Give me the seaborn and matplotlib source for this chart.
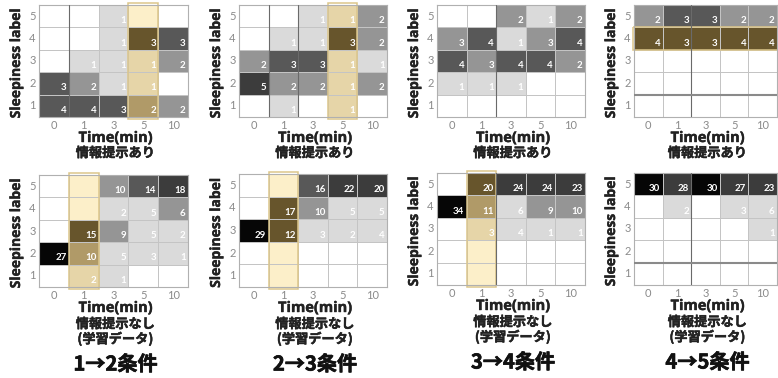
import numpy as np
import pandas as pd
import matplotlib
matplotlib.use("Agg")
import matplotlib.pyplot as plt
import matplotlib.patheffects as pe
import seaborn as sns
from matplotlib.colors import ListedColormap, BoundaryNorm
from matplotlib.patches import Rectangle

sns.set_theme(style="white")
plt.rcParams['font.family'] = ['Open Sans', 'Noto Sans CJK JP', 'DejaVu Sans']

times = ["0", "1", "3", "5", "10"]
sleep_labels = ["5", "4", "3", "2", "1"]

# rows: Sleepiness label 5 -> 1 ; columns: Time(min) 0, 1, 3, 5, 10
info_1to2 = [[0, 0, 1, 0, 0], [0, 0, 1, 3, 3], [0, 1, 1, 1, 2], [3, 2, 1, 1, 0], [4, 4, 3, 2, 2]]
info_2to3 = [[0, 0, 1, 1, 2], [0, 1, 1, 3, 2], [2, 3, 3, 1, 1], [5, 2, 2, 1, 2], [0, 1, 0, 1, 0]]
info_3to4 = [[0, 0, 2, 1, 2], [3, 4, 1, 3, 4], [4, 3, 4, 4, 2], [1, 1, 1, 0, 0], [0, 0, 0, 0, 0]]
info_4to5 = [[2, 3, 3, 2, 2], [4, 3, 3, 4, 4], [0, 0, 0, 0, 0], [0, 0, 0, 0, 0], [0, 0, 0, 0, 0]]
train_1to2 = [[0, 0, 10, 14, 18], [0, 0, 2, 5, 6], [0, 15, 9, 5, 2], [27, 10, 5, 3, 1], [0, 2, 1, 0, 0]]
train_2to3 = [[0, 0, 16, 22, 20], [0, 17, 10, 5, 5], [29, 12, 3, 2, 4], [0, 0, 0, 0, 0], [0, 0, 0, 0, 0]]
train_3to4 = [[0, 20, 24, 24, 23], [34, 11, 6, 9, 10], [0, 3, 4, 1, 1], [0, 0, 0, 0, 0], [0, 0, 0, 0, 0]]
train_4to5 = [[30, 28, 30, 27, 23], [0, 2, 0, 3, 6], [0, 0, 0, 0, 1], [0, 0, 0, 0, 0], [0, 0, 0, 0, 0]]

conditions = ["1→2条件", "2→3条件", "3→4条件", "4→5条件"]
top_caption = "情報提示あり"
bottom_caption = ["情報提示なし", "(学習データ)"]

grey_levels = ['#ffffff', '#dadada', '#959595', '#585858', '#3c3c3c', '#060606']
tint_levels = ['#fcefc9', '#e6d5a8', '#b09a68', '#67552c', '#4d3f1f', '#2a2210']
grey_cmap = ListedColormap(grey_levels)
tint_cmap = ListedColormap(tint_levels)

W, H = 778, 378
fig = plt.figure(figsize=(W / 100, H / 100), dpi=100)

panels = [
    dict(data=info_1to2, rect=(39, 5, 188, 117), bounds=[-0.5, 0.5, 1.5, 2.5, 4.5, 5.5, 99],
         hl=('col', 3), vl=[1], hlines=[], bottom=False, cond=None),
    dict(data=info_2to3, rect=(239, 5, 387, 117), bounds=[-0.5, 0.5, 1.5, 2.5, 3.5, 5.5, 99],
         hl=('col', 3), vl=[1, 2], hlines=[], bottom=False, cond=None),
    dict(data=info_3to4, rect=(437, 5, 585, 117), bounds=[-0.5, 0.5, 1.5, 3.5, 4.5, 5.5, 99],
         hl=None, vl=[2], hlines=[], bottom=False, cond=None),
    dict(data=info_4to5, rect=(634, 5, 777, 117), bounds=[-0.5, 0.5, 1.5, 2.5, 4.5, 5.5, 99],
         hl=('row', 1), vl=[2], hlines=[4], bottom=False, cond=None),
    dict(data=train_1to2, rect=(39, 175, 188, 287), bounds=[-0.5, 0.5, 5.5, 10.5, 15.5, 20.5, 99],
         hl=('col', 1), vl=[], hlines=[], bottom=True, cond=conditions[0]),
    dict(data=train_2to3, rect=(239, 174, 387, 287), bounds=[-0.5, 0.5, 5.5, 11, 19, 25, 99],
         hl=('col', 1), vl=[], hlines=[], bottom=True, cond=conditions[1]),
    dict(data=train_3to4, rect=(437, 173, 585, 285), bounds=[-0.5, 0.5, 7, 12, 21, 30, 99],
         hl=('col', 1), vl=[2], hlines=[], bottom=True, cond=conditions[2]),
    dict(data=train_4to5, rect=(634, 173, 777, 285), bounds=[-0.5, 0.5, 7, 12, 20, 29.5, 99],
         hl=None, vl=[2], hlines=[4], bottom=True, cond=conditions[3]),
]

PX = 72 / 100  # points per pixel
GRID = '#c4c4c4'
cjk = ['Noto Sans CJK JP', 'DejaVu Sans']


def heavy(w, c):
    return [pe.withStroke(linewidth=w, foreground=c)]


for p in panels:
    x0, y0, x1, y1 = p['rect']
    ax = fig.add_axes([x0 / W, 1 - y1 / H, (x1 - x0) / W, (y1 - y0) / H])
    df = pd.DataFrame(p['data'], index=sleep_labels, columns=times)
    annot = df.map(lambda v: "" if v == 0 else str(v))
    norm = BoundaryNorm(p['bounds'], ncolors=len(grey_levels))
    sns.heatmap(df, ax=ax, cmap=grey_cmap, norm=norm, cbar=False,
                linewidths=0.7, linecolor=GRID,
                annot=annot.values, fmt='',
                annot_kws=dict(color='white', fontsize=7, fontweight='bold', family='Lato'))
    for t in ax.texts:
        x, y = t.get_position()
        t.set_position((x + 0.42, y + 0.2))
        t.set_ha('right')
    if p['hl'] is not None:
        kind, idx = p['hl']
        mask = np.ones(df.shape, dtype=bool)
        if kind == 'col':
            mask[:, idx] = False
        else:
            mask[idx, :] = False
        sns.heatmap(df, ax=ax, cmap=tint_cmap, norm=norm, cbar=False, mask=mask,
                    linewidths=0.7, linecolor=GRID, annot=False)
        if kind == 'col':
            rect = Rectangle((idx, -0.08), 1, 5.16)
        else:
            rect = Rectangle((-0.02, idx), 5.1, 1)
        rect.set(fill=False, edgecolor='#dcc68a', linewidth=1.1, clip_on=False, zorder=2.5)
        ax.add_patch(rect)
    for v in p['vl']:
        ax.axvline(v, color='#6a6a6a', lw=0.8, zorder=2.6)
    for h in p['hlines']:
        ax.axhline(h, color='#8a8a8a', lw=1.5, zorder=2.6)
    for s in ax.spines.values():
        s.set_visible(True)
        s.set_color('#b0b0b0')
        s.set_linewidth(0.8)
    ax.set_xlabel("")
    ax.set_ylabel("")
    ax.tick_params(axis='both', length=0, pad=2.5, labelsize=8, labelcolor='#8a8a8a')
    plt.setp(ax.get_yticklabels(), rotation=0, family='Lato')
    plt.setp(ax.get_xticklabels(), rotation=0, family='Lato')

    ax.annotate("Sleepiness label", xy=(0, 0.5), xycoords='axes fraction',
                xytext=(-23 * PX, -2 * PX), textcoords='offset points', rotation=90,
                ha='center', va='center', fontsize=10, fontweight='bold',
                color='#222222', family='Open Sans', annotation_clip=False,
                path_effects=heavy(0.3, '#222222'))
    ax.annotate("Time(min)", xy=(0.5, 0), xycoords='axes fraction',
                xytext=(2 * PX, -21 * PX), textcoords='offset points',
                ha='center', va='center', fontsize=10.5, fontweight='bold',
                color='#222222', family='Open Sans', annotation_clip=False,
                path_effects=heavy(0.3, '#222222'))
    if not p['bottom']:
        ax.annotate(top_caption, xy=(0.5, 0), xycoords='axes fraction',
                    xytext=(2 * PX, -36 * PX), textcoords='offset points',
                    ha='center', va='center', fontsize=9.5, fontweight='bold',
                    color='#222222', family=cjk, annotation_clip=False,
                    path_effects=heavy(0.35, '#222222'))
    else:
        for k, line in enumerate(bottom_caption):
            ax.annotate(line, xy=(0.5, 0), xycoords='axes fraction',
                        xytext=(2 * PX, -(37 + 15 * k) * PX), textcoords='offset points',
                        ha='center', va='center', fontsize=9.5, fontweight='bold',
                        color='#222222', family=cjk, annotation_clip=False,
                        path_effects=heavy(0.35, '#222222'))
        ax.annotate(p['cond'], xy=(0.5, 0), xycoords='axes fraction',
                    xytext=(2 * PX, -77 * PX), textcoords='offset points',
                    ha='center', va='center', fontsize=14.5, fontweight='bold',
                    color='#111111', family=cjk, annotation_clip=False,
                    path_effects=heavy(0.5, '#111111'))

fig.savefig("out.png", dpi=100, facecolor='white')
